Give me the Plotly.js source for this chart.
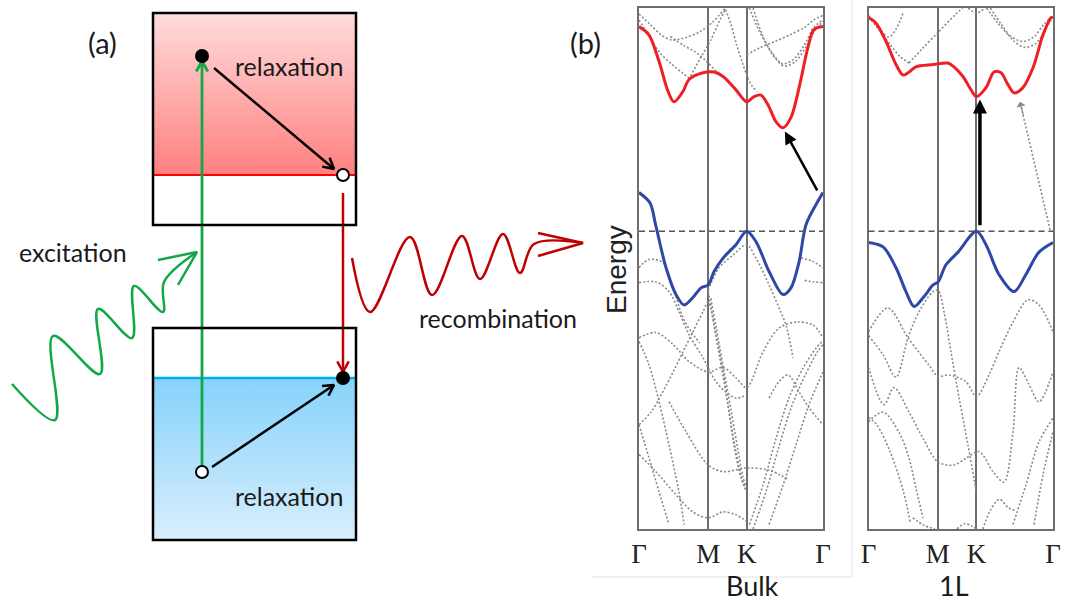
<!DOCTYPE html>
<html><head><meta charset="utf-8">
<script src="https://cdn.plot.ly/plotly-3.0.1.min.js"></script>
<style>html,body{margin:0;padding:0;background:#fff}#chart{width:1080px;height:602px}</style>
</head><body><div id="chart"></div>
<script>
// ---------------- (b) band structures: k = fraction of the Γ-M-K-Γ path, E = energy (eV, VBM at K = 0) ----
const kTickVals = [0, 0.376, 0.585, 1];
const kTickText = ['Γ', 'M', 'K', 'Γ'];

// Bulk
const bulkCondK = [0,0.054,0.109,0.158,0.19,0.239,0.272,0.348,0.408,0.457,0.527,0.585,0.625,0.663,0.701,0.745,0.783,0.826,0.87,0.918,0.951,1.0];
const bulkCondE = [2.75,2.64,2.28,1.88,1.74,1.88,2.04,2.13,2.14,2.08,1.90,1.74,1.81,1.83,1.70,1.47,1.39,1.53,1.93,2.47,2.71,2.75];
const bulkValK = [0,0.06,0.09,0.147,0.201,0.245,0.293,0.337,0.376,0.408,0.457,0.527,0.585,0.636,0.707,0.783,0.826,0.87,0.908,0.967,1.0];
const bulkValE = [0.52,0.38,0.09,-0.49,-0.85,-0.99,-0.89,-0.76,-0.72,-0.54,-0.36,-0.18,0,-0.14,-0.54,-0.85,-0.76,-0.41,0.09,0.38,0.52];
const bulkGrayK = [
  [0,0.06,0.12,0.18,0.25,0.33,0.40,0.47],
  [0,0.05,0.11,0.18,0.24,0.28],
  [0.27,0.33,0.39,0.44,0.47],
  [0.47,0.5,0.53,0.56,0.585,0.61,0.64],
  [0.6,0.65,0.72,0.78,0.84,0.9,0.95,1.0],
  [0.62,0.67,0.73,0.79,0.85,0.91,0.96,1.0],
  [0.585,0.66,0.74,0.82,0.9,0.95,1.0],
  [0.17,0.24,0.3,0.36,0.42,0.47],
  [0,0.054,0.13,0.185,0.239,0.283,0.33],
  [0,0.092,0.185,0.272,0.376,0.457,0.527,0.585,0.674,0.761,0.853,0.946,1.0],
  [0,0.092,0.163,0.217,0.272,0.348,0.418,0.473,0.527,0.585],
  [0,0.065,0.12,0.185,0.239,0.293,0.348,0.376,0.418,0.457,0.489,0.527,0.565,0.585],
  [0.376,0.408,0.446,0.484,0.516,0.554,0.585],
  [0.39,0.42,0.46,0.5,0.535,0.565,0.585],
  [0.376,0.435,0.511,0.585,0.636,0.707,0.761,0.799,0.837],
  [0,0.092,0.201,0.293,0.376,0.457,0.527,0.585],
  [0,0.054,0.109,0.163],
  [0,0.054,0.109,0.163,0.217,0.245],
  [0.163,0.255,0.376,0.457,0.585,0.707,0.815],
  [0.6,0.674,0.745,0.815,0.891,0.962,1.0],
  [0.62,0.69,0.76,0.83,0.9,0.97,1.0],
  [0.707,0.783,0.853,0.924,1.0],
  [0.707,0.761,0.81,0.87,0.924,1.0],
  [0.88,0.94,1.0],
  [0.9,0.95,1.0]
];
const bulkGrayE = [
  [2.92,2.78,2.64,2.57,2.60,2.68,2.81,3.0],
  [2.84,2.64,2.41,2.24,2.12,2.04],
  [2.04,2.31,2.57,2.84,2.98],
  [2.98,2.78,2.51,2.28,2.10,1.97,1.88],
  [3.0,2.71,2.41,2.25,2.31,2.51,2.74,2.84],
  [3.0,2.64,2.36,2.22,2.28,2.49,2.71,2.82],
  [2.37,2.47,2.55,2.64,2.74,2.84,2.90],
  [2.62,2.5,2.42,2.3,2.15,2.05],
  [-0.49,-0.38,-0.42,-0.76,-1.16,-1.35,-1.5],
  [-1.43,-1.36,-1.52,-1.75,-1.89,-1.83,-1.97,-2.10,-1.62,-1.30,-1.22,-1.26,-1.43],
  [-0.69,-0.68,-0.81,-1.08,-1.39,-1.70,-2.02,-2.16,-2.24,-2.20],
  [-2.6,-2.43,-2.20,-1.89,-1.62,-1.35,-1.08,-0.95,-1.39,-1.89,-2.43,-2.96,-3.37,-3.45],
  [-0.81,-1.26,-1.80,-2.33,-2.87,-3.31,-3.50],
  [-0.9,-1.3,-1.85,-2.4,-2.9,-3.3,-3.45],
  [-0.79,-0.49,-0.32,-0.18,-0.36,-0.72,-1.03,-1.26,-1.70],
  [-3.0,-3.23,-3.54,-3.77,-3.85,-3.77,-3.81,-3.90],
  [-2.6,-3.04,-3.50,-3.94],
  [-1.48,-1.79,-2.29,-2.87,-3.50,-3.94],
  [-2.29,-2.69,-3.14,-3.23,-3.18,-3.21,-3.34],
  [-3.94,-3.41,-2.78,-2.24,-1.84,-1.57,-1.47],
  [-4.0,-3.5,-2.9,-2.35,-1.95,-1.62,-1.52],
  [-3.94,-3.41,-2.87,-2.33,-1.89],
  [-2.24,-2.02,-1.93,-2.16,-2.37,-2.60],
  [-0.36,-0.40,-0.49],
  [-0.66,-0.68,-0.69]
];

// Monolayer (1L)
const monoCondK = [0,0.04,0.095,0.149,0.187,0.22,0.257,0.35,0.431,0.463,0.512,0.556,0.585,0.637,0.68,0.718,0.756,0.789,0.837,0.892,0.946,0.989,1.0];
const monoCondE = [2.87,2.80,2.55,2.24,2.10,2.14,2.21,2.24,2.26,2.21,2.08,1.90,1.81,1.93,2.14,2.13,1.97,1.86,1.93,2.20,2.64,2.87,2.87];
const monoValK = [0,0.079,0.149,0.203,0.247,0.30,0.35,0.377,0.42,0.485,0.585,0.637,0.707,0.789,0.853,0.924,1.0];
const monoValE = [-0.15,-0.21,-0.49,-0.81,-1.01,-0.88,-0.72,-0.68,-0.45,-0.28,0,-0.18,-0.58,-0.81,-0.58,-0.28,-0.15];
const monoGrayK = [
  [0,0.05,0.11,0.15,0.19],
  [0,0.06,0.12,0.17,0.22],
  [0.22,0.29,0.38,0.47,0.51],
  [0.54,0.585,0.63],
  [0.64,0.7,0.77,0.84,0.9,0.95,1.0],
  [0.66,0.72,0.79,0.85,0.91,0.96,1.0],
  [0,0.105,0.214,0.328,0.377,0.436,0.528,0.585,0.653,0.707,0.783,0.864,0.924,1.0],
  [0,0.079,0.149,0.214,0.274,0.35,0.377,0.409,0.447,0.491,0.539,0.585],
  [0,0.084,0.138,0.22,0.295,0.377,0.463,0.528,0.599,0.675,0.734,0.783,0.816,0.87,0.924,1.0],
  [0,0.079,0.165,0.22,0.257,0.295],
  [0,0.045,0.117,0.19,0.225],
  [0.24,0.3,0.36],
  [0.48,0.52,0.56,0.585],
  [0.62,0.66,0.71,0.76,0.8],
  [0.783,0.853,0.924,1.0],
  [0.897,0.946,1.0]
];
const monoGrayE = [
  [2.9,2.75,2.61,2.72,2.95],
  [2.88,2.7,2.5,2.35,2.26],
  [2.26,2.45,2.68,2.91,3.0],
  [3.0,2.93,3.0],
  [3.0,2.8,2.62,2.55,2.62,2.78,2.9],
  [3.0,2.78,2.55,2.47,2.53,2.72,2.88],
  [-1.35,-1.03,-1.43,-1.80,-1.95,-1.93,-2.02,-2.22,-1.93,-1.62,-1.22,-0.92,-0.99,-1.35],
  [-1.4,-1.66,-1.96,-1.43,-1.08,-0.81,-0.79,-1.08,-1.62,-2.24,-2.87,-3.51],
  [-1.83,-2.33,-2.10,-2.43,-2.78,-3.10,-3.14,-3.05,-2.96,-3.23,-3.37,-2.70,-1.83,-2.06,-2.29,-1.89],
  [-2.56,-2.43,-2.70,-3.05,-3.45,-3.85],
  [-2.5,-2.6,-2.96,-3.5,-3.9],
  [-3.85,-3.95,-4.0],
  [-4.0,-3.93,-3.96,-4.0],
  [-4.0,-3.75,-3.6,-3.72,-3.75],
  [-3.94,-3.41,-2.83,-2.51],
  [-3.94,-3.27,-2.69]
];

// transitions drawn on (b): [k_from, E_from, k_to, E_to]
const bulkIndirect = [0.973, 0.53, 0.793, 1.34];
const monoDirect = [0.604, 0.06, 0.604, 1.77];
const monoIndirect = [0.984, 0.02, 0.821, 1.74];

// ---------------- (a) schematic, in a page-sized diagram space ----------------
const cbBoxX = [153, 356], cbBoxY = [13, 225], cbLevelY = 175;
const vbBoxX = [153, 356], vbBoxY = [328, 540], vbLevelY = 378;
const exciteX = 202, exciteY = [467, 61];
const recombX = 343, recombY = [193, 372];
const relaxUpX = [214, 334], relaxUpY = [68, 169];
const relaxDnX = [212, 334], relaxDnY = [467, 385];
const electronX = [202, 343], electronY = [56, 378];
const holeX = [343, 202], holeY = [175, 472];
const greenWaveX = [12,55,53,100,98,132,134,163,164,197];
const greenWaveY = [384,420,336,374,309,338,286,312,282,252];
const greenHeadX = [158,197,178], greenHeadY = [260,252,285];
const redWaveX = [352,370,410,432,462,480,503,520,534,583];
const redWaveY = [258,312,237,295,236,279,234,273,244,243];
const redHeadX = [538,583,538], redHeadY = [233,243,256];

const traces = [];
const grayDot = {color: '#8a8a8a', width: 1.6, dash: '2px,2px', shape: 'spline', smoothing: 0.9};
function addBands(grayK, grayE, cK, cE, vK, vE, xa, ya) {
  for (let i = 0; i < grayK.length; i++) {
    traces.push({x: grayK[i], y: grayE[i], xaxis: xa, yaxis: ya, mode: 'lines', line: grayDot, hoverinfo: 'skip'});
  }
  traces.push({x: cK, y: cE, xaxis: xa, yaxis: ya, mode: 'lines',
    line: {color: '#ee1f25', width: 3, shape: 'spline', smoothing: 0.9}, hoverinfo: 'skip'});
  traces.push({x: vK, y: vE, xaxis: xa, yaxis: ya, mode: 'lines',
    line: {color: '#2f47a6', width: 3, shape: 'spline', smoothing: 0.9}, hoverinfo: 'skip'});
}
addBands(bulkGrayK, bulkGrayE, bulkCondK, bulkCondE, bulkValK, bulkValE, 'x', 'y');
addBands(monoGrayK, monoGrayE, monoCondK, monoCondE, monoValK, monoValE, 'x2', 'y2');
traces.push({x: [monoIndirect[0], monoIndirect[2]], y: [monoIndirect[1], monoIndirect[3]], xaxis: 'x2', yaxis: 'y2',
  mode: 'lines', line: {color: '#8a8a8a', width: 1.6, dash: '2px,2px'}, hoverinfo: 'skip'});

// diagram traces
const D = {xaxis: 'x3', yaxis: 'y3', hoverinfo: 'skip', showlegend: false};
traces.push(Object.assign({}, D, {x: [cbBoxX[0], cbBoxX[1], cbBoxX[1], cbBoxX[0]], y: [cbBoxY[0], cbBoxY[0], cbLevelY, cbLevelY],
  mode: 'lines', fill: 'toself', line: {width: 0}, fillcolor: '#ffb0b0',
  fillgradient: {type: 'vertical', start: cbLevelY, stop: cbBoxY[0], colorscale: [[0, '#ff7f7f'], [1, '#ffdcdc']]}}));
traces.push(Object.assign({}, D, {x: [vbBoxX[0], vbBoxX[1], vbBoxX[1], vbBoxX[0]], y: [vbLevelY, vbLevelY, vbBoxY[1], vbBoxY[1]],
  mode: 'lines', fill: 'toself', line: {width: 0}, fillcolor: '#b0e0fb',
  fillgradient: {type: 'vertical', start: vbLevelY, stop: vbBoxY[1], colorscale: [[0, '#86d3fb'], [1, '#d9eefc']]}}));
traces.push(Object.assign({}, D, {x: cbBoxX, y: [cbLevelY, cbLevelY], mode: 'lines', line: {color: '#ff0000', width: 2}}));
traces.push(Object.assign({}, D, {x: vbBoxX, y: [vbLevelY, vbLevelY], mode: 'lines', line: {color: '#00aeef', width: 2.5}}));

function chevron(x0, y0, x1, y1, L, ang) {
  const a = Math.atan2(y1 - y0, x1 - x0);
  return {x: [x1 - L * Math.cos(a - ang), x1, x1 - L * Math.cos(a + ang)],
          y: [y1 - L * Math.sin(a - ang), y1, y1 - L * Math.sin(a + ang)]};
}
function arrow(xs, ys, color, w) {
  traces.push(Object.assign({}, D, {x: xs, y: ys, mode: 'lines', line: {color: color, width: w}}));
  const c = chevron(xs[0], ys[0], xs[1], ys[1], 12, 0.5);
  traces.push(Object.assign({}, D, {x: c.x, y: c.y, mode: 'lines', line: {color: color, width: w}}));
}
arrow([exciteX, exciteX], exciteY, '#12a84a', 2.8);
arrow([recombX, recombX], recombY, '#c00000', 2.5);
arrow(relaxUpX, relaxUpY, '#000000', 2.5);
arrow(relaxDnX, relaxDnY, '#000000', 2.5);
traces.push(Object.assign({}, D, {x: greenWaveX, y: greenWaveY, mode: 'lines', line: {color: '#12a84a', width: 2.5, shape: 'spline', smoothing: 1}}));
traces.push(Object.assign({}, D, {x: greenHeadX, y: greenHeadY, mode: 'lines', line: {color: '#12a84a', width: 2.5}}));
traces.push(Object.assign({}, D, {x: redWaveX, y: redWaveY, mode: 'lines', line: {color: '#c00000', width: 2.5, shape: 'spline', smoothing: 1}}));
traces.push(Object.assign({}, D, {x: redHeadX, y: redHeadY, mode: 'lines', line: {color: '#c00000', width: 2.5}}));
traces.push(Object.assign({}, D, {x: electronX, y: electronY, mode: 'markers', marker: {symbol: 'circle', size: 14, color: '#000'}}));
traces.push(Object.assign({}, D, {x: holeX, y: holeY, mode: 'markers', marker: {symbol: 'circle', size: 12, color: '#fff', line: {color: '#000', width: 2}}}));

const txt = (x, y, t, size, extra) => Object.assign({xref: 'x3', yref: 'y3', x: x, y: y, text: t, showarrow: false,
  font: {family: 'Lato, Open Sans, sans-serif', size: size, color: '#1a1a1a'}}, extra || {});

const axisX = (dom) => ({domain: dom, range: [0, 1], tickvals: kTickVals, ticktext: kTickText, ticks: '',
  showgrid: true, gridcolor: '#6e6e6e', gridwidth: 2, zeroline: false, showline: true, mirror: true,
  linecolor: '#6e6e6e', linewidth: 2, fixedrange: true,
  tickfont: {family: 'Liberation Serif, serif', size: 27, color: '#222'}});
const axisY = (dom) => ({domain: dom, range: [-4, 3], showgrid: false, zeroline: false, showticklabels: false,
  ticks: '', showline: true, mirror: true, linecolor: '#6e6e6e', linewidth: 2, fixedrange: true});
const yDom = [73 / 602, 594 / 602];

const layout = {
  width: 1080, height: 602, margin: {l: 0, r: 0, t: 0, b: 0},
  paper_bgcolor: '#ffffff', plot_bgcolor: 'rgba(0,0,0,0)', showlegend: false,
  xaxis: Object.assign(axisX([639 / 1080, 823 / 1080]), {anchor: 'y'}),
  yaxis: Object.assign(axisY(yDom), {anchor: 'x'}),
  xaxis2: Object.assign(axisX([868.5 / 1080, 1053 / 1080]), {anchor: 'y2'}),
  yaxis2: Object.assign(axisY(yDom), {anchor: 'x2'}),
  xaxis3: {domain: [0, 1], range: [0, 1080], visible: false, anchor: 'y3', fixedrange: true},
  yaxis3: {domain: [0, 1], range: [602, 0], visible: false, anchor: 'x3', fixedrange: true},
  shapes: [
    {type: 'rect', xref: 'x3', yref: 'y3', x0: cbBoxX[0], x1: cbBoxX[1], y0: cbBoxY[0], y1: cbBoxY[1], line: {color: '#000', width: 2.5}},
    {type: 'rect', xref: 'x3', yref: 'y3', x0: vbBoxX[0], x1: vbBoxX[1], y0: vbBoxY[0], y1: vbBoxY[1], line: {color: '#000', width: 2.5}},
    {type: 'line', xref: 'x domain', yref: 'y', x0: 0, x1: 1, y0: 0, y1: 0, line: {color: '#555', width: 1.6, dash: '6px,4px'}},
    {type: 'line', xref: 'x2 domain', yref: 'y2', x0: 0, x1: 1, y0: 0, y1: 0, line: {color: '#555', width: 1.6, dash: '6px,4px'}},
    {type: 'line', xref: 'paper', yref: 'paper', x0: 592 / 1080, x1: 852 / 1080, y0: 25 / 602, y1: 25 / 602, line: {color: '#e2e2e2', width: 1}},
    {type: 'line', xref: 'paper', yref: 'paper', x0: 852 / 1080, x1: 852 / 1080, y0: 25 / 602, y1: 1, line: {color: '#e2e2e2', width: 1}}
  ],
  annotations: [
    txt(102, 42, '(a)', 29), txt(585, 42, '(b)', 29),
    txt(289, 66, 'relaxation', 25), txt(289, 496, 'relaxation', 25),
    txt(73, 252, 'excitation', 25), txt(498, 318, 'recombination', 25),
    txt(752, 585, 'Bulk', 27), txt(954, 585, '1L', 27),
    txt(616, 270, 'Energy', 28, {textangle: -90, font: {family: 'Liberation Sans, Arial, sans-serif', size: 28, color: '#222'}}),
    {xref: 'x', yref: 'y', axref: 'x', ayref: 'y', x: bulkIndirect[2], y: bulkIndirect[3], ax: bulkIndirect[0], ay: bulkIndirect[1],
      showarrow: true, arrowhead: 2, arrowsize: 1, arrowwidth: 2.5, arrowcolor: '#000', text: ''},
    {xref: 'x2', yref: 'y2', axref: 'x2', ayref: 'y2', x: monoDirect[2], y: monoDirect[3], ax: monoDirect[0], ay: monoDirect[1],
      showarrow: true, arrowhead: 2, arrowsize: 0.8, arrowwidth: 3.5, arrowcolor: '#000', text: ''},
    {xref: 'x2', yref: 'y2', axref: 'x2', ayref: 'y2', x: monoIndirect[2], y: monoIndirect[3],
      ax: monoIndirect[2] + 0.02, ay: monoIndirect[3] - 0.2,
      showarrow: true, arrowhead: 1, arrowsize: 1.3, arrowwidth: 1.2, arrowcolor: '#8a8a8a', text: ''}
  ]
};

Plotly.newPlot('chart', traces, layout, {staticPlot: true, displayModeBar: false});
</script>
</body></html>
